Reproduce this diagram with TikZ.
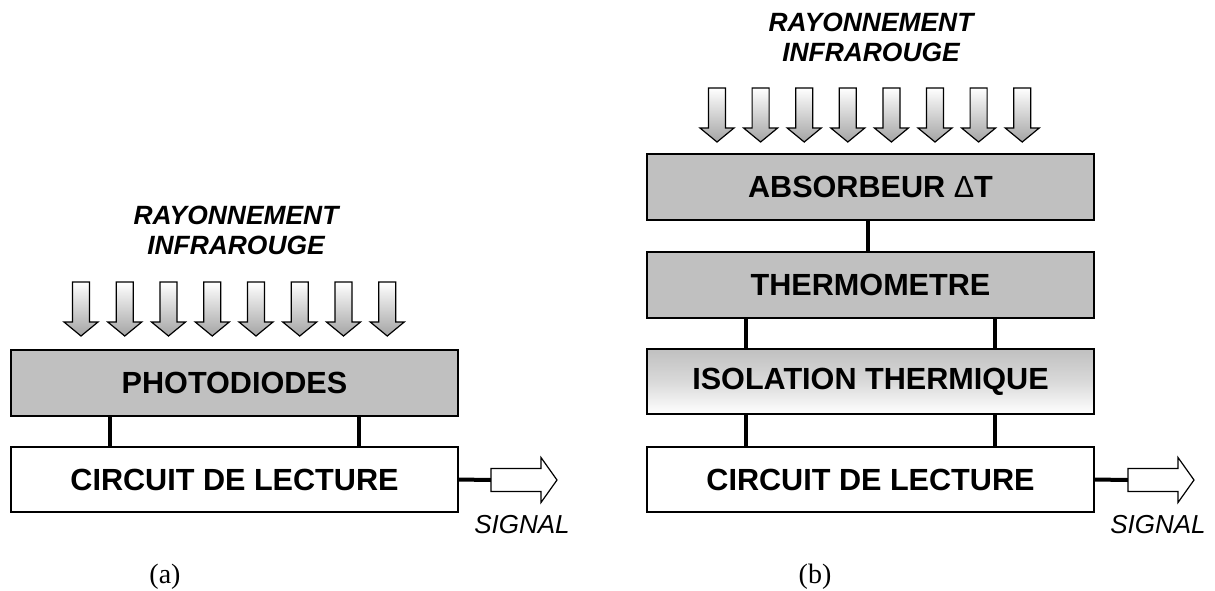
\documentclass[tikz,border=0pt]{standalone}
\usepackage{fontspec}
\setmainfont{Liberation Serif}
\setsansfont{Liberation Sans}
\definecolor{boxgray}{HTML}{C0C0C0}
\definecolor{arrowgray}{HTML}{A4A4A4}
\begin{document}
\begin{tikzpicture}[x=1pt,y=-1pt,
  blk/.style={draw=black, line width=1.5pt, minimum width=447pt, minimum height=65pt, inner sep=0pt,
    font=\sffamily\bfseries\fontsize{30.6}{36}\selectfont},
  graybox/.style={blk, fill=boxgray},
  whitebox/.style={blk, fill=white},
  fadebox/.style={blk, top color=boxgray, bottom color=white, middle color=boxgray!60},
  link/.style={line width=4pt},
  ray/.style={font=\sffamily\bfseries\itshape\fontsize{26.4}{30}\selectfont, align=center, inner sep=0pt},
  sig/.style={font=\sffamily\itshape\fontsize{26}{30}\selectfont, inner sep=0pt},
  caption/.style={font=\rmfamily\fontsize{28}{32}\selectfont, inner sep=0pt},
  irarrow/.pic={\path[draw=black, line width=1.2pt, top color=white, bottom color=arrowgray]
     (-8.5,0) -- (8.5,0) -- (8.5,40) -- (17,40) -- (0,54) -- (-17,40) -- (-8.5,40) -- cycle;},
  sigarrow/.pic={\path[draw=black, line width=1.2pt, fill=white]
     (0,-11.5) -- (50,-11.5) -- (50,-22.5) -- (66,0) -- (50,22.5) -- (50,11.5) -- (0,11.5) -- cycle;}
]
\useasboundingbox (0,0) rectangle (1215,590);

% ---------- panel (a) ----------
\node[ray] (rayA) at (236,230) {RAYONNEMENT\\INFRAROUGE};
\foreach \i in {0,...,7} \pic at ({81+43.75*\i},282) {irarrow};

\node[graybox, minimum height=66pt] (photo) at (234.5,383) {PHOTODIODES};
\node[whitebox] (circA) at (234.5,479.5) {CIRCUIT DE LECTURE};

\draw[link] ([xshift=100pt]photo.south west) -- ([xshift=100pt]circA.north west);
\draw[link] ([xshift=349pt]photo.south west) -- ([xshift=349pt]circA.north west);

\coordinate (sigA) at (491,480);
\draw[link] (circA.east) -- (sigA);
\pic at (sigA) {sigarrow};
\node[sig] (sigtxtA) at (522,525) {SIGNAL};
\node[caption] (capA) at (165,577) {(a)};

% ---------- panel (b) ----------
\node[ray] (rayB) at (871,37) {RAYONNEMENT\\INFRAROUGE};
\foreach \i in {0,...,7} \pic at ({717+43.6*\i},88) {irarrow};

\node[graybox, minimum height=66pt] (absorb) at (870.5,187) {ABSORBEUR {\mdseries Δ}T};
\node[graybox, minimum height=66pt] (thermo) at (870.5,285) {THERMOMETRE};
\node[fadebox] (iso) at (870.5,381.5) {ISOLATION THERMIQUE};
\node[whitebox] (circB) at (870.5,479.5) {CIRCUIT DE LECTURE};

\draw[link] ([xshift=-3pt]absorb.south) -- ([xshift=-3pt]thermo.north);
\draw[link] ([xshift=99.5pt]thermo.south west) -- ([xshift=99.5pt]iso.north west);
\draw[link] ([xshift=349pt]thermo.south west) -- ([xshift=349pt]iso.north west);
\draw[link] ([xshift=99.5pt]iso.south west) -- ([xshift=99.5pt]circB.north west);
\draw[link] ([xshift=349pt]iso.south west) -- ([xshift=349pt]circB.north west);

\coordinate (sigB) at (1128,480);
\draw[link] (circB.east) -- (sigB);
\pic at (sigB) {sigarrow};
\node[sig] (sigtxtB) at (1158,525) {SIGNAL};
\node[caption] (capB) at (815,577) {(b)};
\end{tikzpicture}
\end{document}
